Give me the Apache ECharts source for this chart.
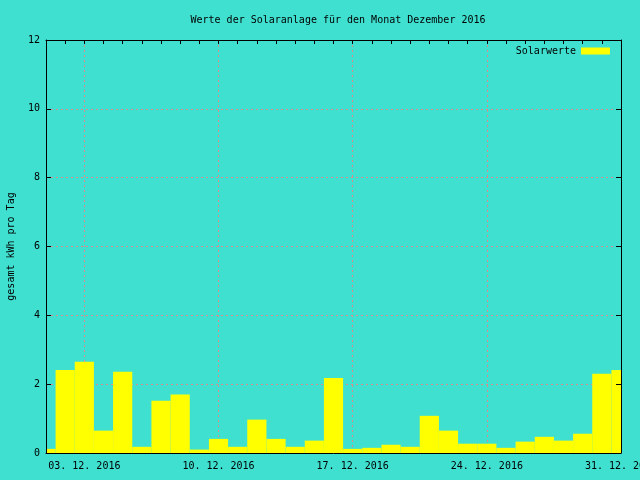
<!DOCTYPE html>
<html>
<head>
<meta charset="utf-8">
<script src="https://cdn.jsdelivr.net/npm/echarts@6/dist/echarts.min.js"></script>
<style>html,body{margin:0;padding:0;background:#40e0d0;}#c{width:640px;height:480px;}</style>
</head>
<body>
<div id="c"></div>
<script>
const days = [1,2,3,4,5,6,7,8,9,10,11,12,13,14,15,16,17,18,19,20,21,22,23,24,25,26,27,28,29,30,31];
const solarwerte = [0.12,2.41,2.65,0.65,2.36,0.18,1.52,1.70,0.10,0.41,0.18,0.97,0.41,0.18,0.36,2.18,0.12,0.15,0.24,0.18,1.08,0.65,0.27,0.27,0.15,0.33,0.47,0.36,0.56,2.30,2.41];
const tickDays = [3,10,17,24,31];
const tickLabels = ["03. 12. 2016","10. 12. 2016","17. 12. 2016","24. 12. 2016","31. 12. 2016"];

const FONT = 'DejaVu Sans Mono';
const chart = echarts.init(document.getElementById('c'), null, {renderer:'canvas'});
const gridL = 46, gridR = 19, gridT = 40, gridB = 27;
const xMin = 1, xMax = 31;
const gridLine = {show:true, lineStyle:{color:'#d88c8c', type:[2,3], width:1}};

function renderBar(params, api) {
  const d = api.value(0), v = api.value(1);
  const p0 = api.coord([d - 0.5, 0]);
  const p1 = api.coord([d + 0.5, v]);
  const rect = echarts.graphic.clipRectByRect(
    {x: p0[0], y: p1[1], width: p1[0] - p0[0], height: p0[1] - p1[1]},
    {x: params.coordSys.x, y: params.coordSys.y, width: params.coordSys.width, height: params.coordSys.height});
  return rect && {type:'rect', shape:rect, style:{fill:'#ffff00'}};
}

chart.setOption({
  backgroundColor:'#40e0d0',
  animation:false,
  title:{text:'Werte der Solaranlage für den Monat Dezember 2016', left:333, top:10, textAlign:'center',
    textStyle:{fontFamily:FONT, fontSize:10, fontWeight:'normal', color:'#000'}},
  legend:{data:[{name:'Solarwerte', icon:'rect', itemStyle:{color:'#ffff00'}}], right:30, top:46, padding:0, align:'right', itemWidth:29, itemHeight:7, itemGap:6,
    textStyle:{fontFamily:FONT, fontSize:10, color:'#000'}},
  grid:{left:gridL, right:gridR, top:gridT, bottom:gridB, outerBoundsMode:'none', containLabel:false},
  xAxis:[
    {type:'value', min:xMin, max:xMax, position:'bottom', z:0,
     axisLine:{show:false}, axisTick:{show:false, customValues:tickDays},
     splitLine:gridLine,
     axisLabel:{customValues:tickDays, margin:8, fontFamily:FONT, fontSize:10, color:'#000',
       formatter:v=>{const i=tickDays.indexOf(v); return i>=0?tickLabels[i]:'';}}},
    {type:'value', min:xMin, max:xMax, interval:1, position:'top', z:10,
     axisLine:{show:true, onZero:false, lineStyle:{color:'#000', width:1}},
     axisTick:{show:true, inside:true, length:4, lineStyle:{color:'#000'}},
     axisLabel:{show:false}, splitLine:{show:false}},
    {type:'value', min:xMin, max:xMax, position:'bottom', z:10,
     axisLine:{show:true, onZero:false, lineStyle:{color:'#000', width:1}},
     axisTick:{show:false}, axisLabel:{show:false}, splitLine:{show:false}}
  ],
  yAxis:[
    {type:'value', min:0, max:12, interval:2, position:'left', z:0,
     name:'gesamt kWh pro Tag', nameLocation:'middle', nameRotate:90, nameGap:30,
     nameTextStyle:{fontFamily:FONT, fontSize:10, color:'#000'},
     axisLine:{show:false}, axisTick:{show:false},
     splitLine:gridLine,
     axisLabel:{margin:6, fontFamily:FONT, fontSize:10, color:'#000'}},
    {type:'value', min:0, max:12, interval:2, position:'left', offset:0, z:10,
     axisLine:{show:true, onZero:false, lineStyle:{color:'#000', width:1}},
     axisTick:{show:true, inside:true, length:5, lineStyle:{color:'#000'}},
     axisLabel:{show:false}, splitLine:{show:false}},
    {type:'value', min:0, max:12, interval:2, position:'right', offset:0, z:10,
     axisLine:{show:true, onZero:false, lineStyle:{color:'#000', width:1}},
     axisTick:{show:true, inside:true, length:5, lineStyle:{color:'#000'}},
     axisLabel:{show:false}, splitLine:{show:false}}
  ],
  series:[{
    name:'Solarwerte', type:'custom', xAxisIndex:0, yAxisIndex:0, z:2,
    renderItem: renderBar,
    itemStyle:{color:'#ffff00'},
    encode:{x:0, y:1},
    data: days.map((d,i)=>[d, solarwerte[i]])
  }]
});
</script>
</body>
</html>
